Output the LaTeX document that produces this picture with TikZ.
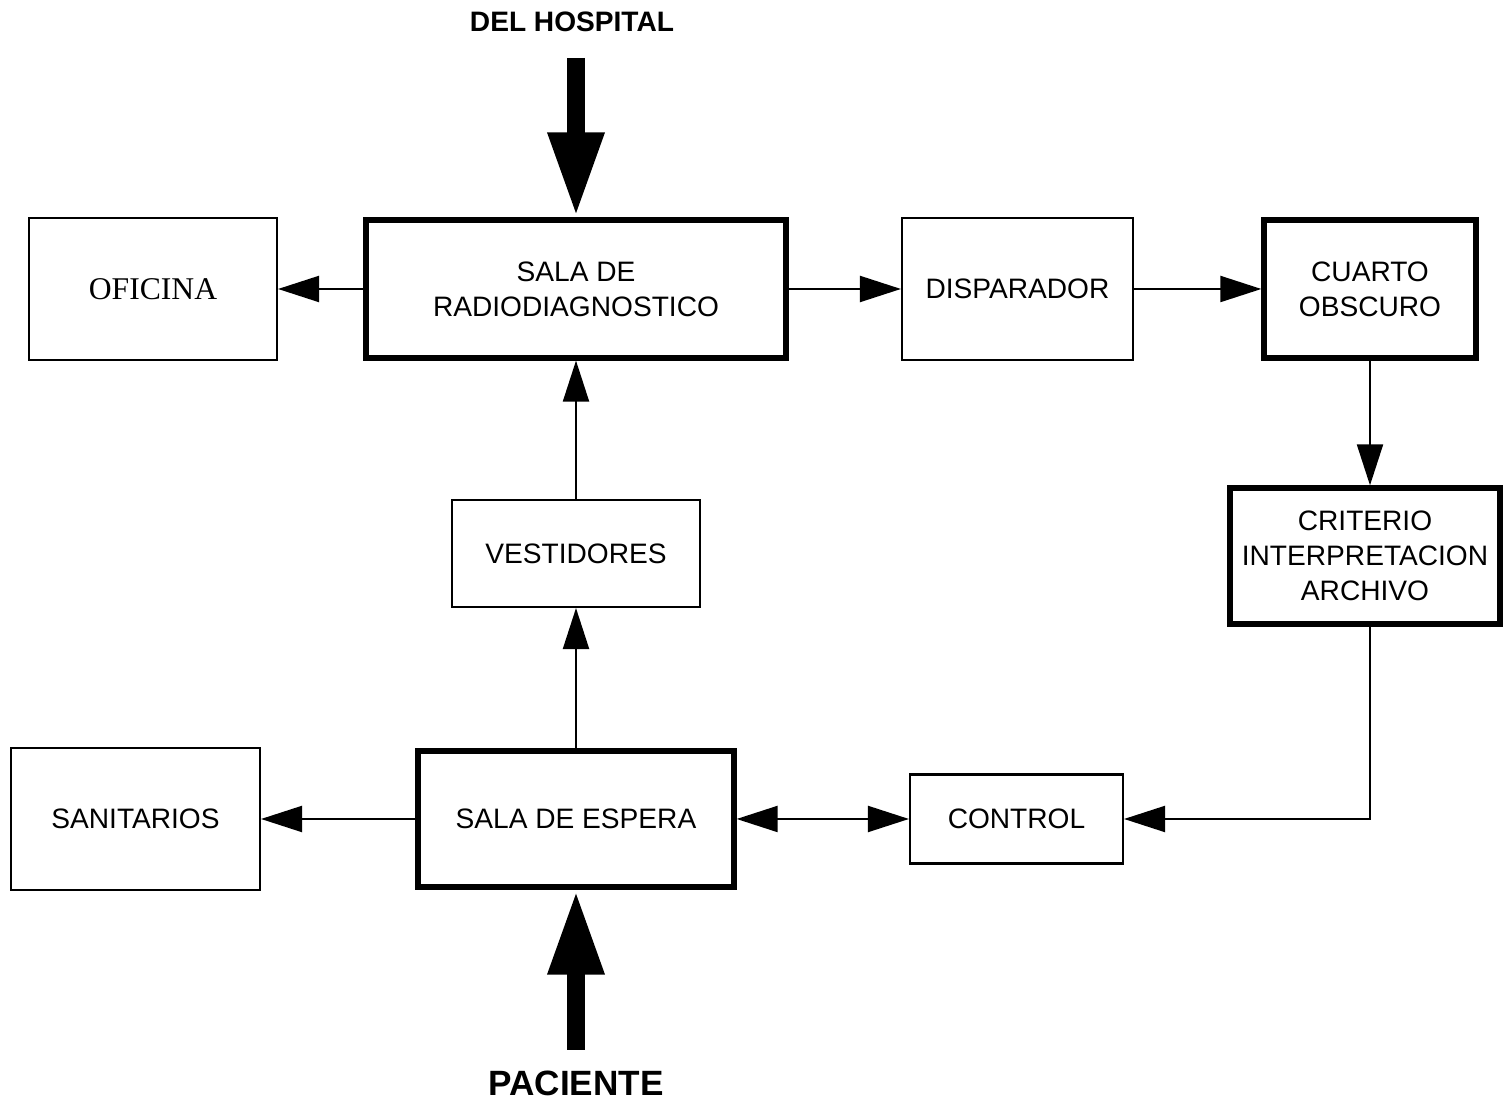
\documentclass[tikz,border=0pt]{standalone}
\usepackage{fontspec}
\setmainfont{Liberation Sans}
\newfontfamily\serifo{Liberation Serif}
\usetikzlibrary{arrows.meta, positioning, calc}

\begin{document}
\begin{tikzpicture}[font=\fontsize{8}{10}\selectfont,
    caja/.style={draw, line width=0.6pt, align=center, inner sep=0pt},
    gruesa/.style={caja, line width=1.5pt},
    flecha/.style={line width=0.6pt, -{Triangle[length=0.41cm, width=0.26cm]}},
    grande/.style={line width=0.18cm, -{Triangle[length=0.85cm, width=0.52cm]}}]
    \useasboundingbox (0,0) rectangle (15.03,-11.01);
    % fila superior
    \node[gruesa, minimum width=4.2cm, minimum height=1.38cm] (rad) at (5.76,-2.89) {SALA DE\\RADIODIAGNOSTICO};
    \node[caja, minimum width=2.48cm, minimum height=1.42cm, font=\serifo\fontsize{9}{11}\selectfont] (ofi) at (1.53,-2.89) {OFICINA};
    \node[caja, minimum width=2.31cm, minimum height=1.42cm] (disp) at (10.175,-2.89) {DISPARADOR};
    \node[gruesa, minimum width=2.12cm, minimum height=1.38cm] (cuarto) at (13.70,-2.89) {CUARTO\\OBSCURO};
    \node[gruesa, minimum width=2.70cm, minimum height=1.36cm] (crit) at (13.65,-5.56) {CRITERIO\\INTERPRETACION\\ARCHIVO};
    % centro
    \node[caja, minimum width=2.48cm, minimum height=1.07cm] (vest) at (5.76,-5.535) {VESTIDORES};
    % fila inferior
    \node[gruesa, minimum width=3.16cm, minimum height=1.36cm] (espera) at (5.76,-8.19) {SALA DE ESPERA};
    \node[caja, minimum width=2.49cm, minimum height=1.42cm] (sanit) at (1.355,-8.19) {SANITARIOS};
    \node[caja, minimum width=2.13cm, minimum height=0.89cm] (ctrl) at (10.165,-8.19) {CONTROL};
    % entradas
    \node[font=\bfseries\fontsize{8}{10}\selectfont] (hosp) at (5.72,-0.22) {DEL HOSPITAL};
    \node[font=\bfseries\fontsize{10}{12}\selectfont] (pac) at (5.76,-10.83) {PACIENTE};
    \coordinate (hospin) at (5.76,-0.58);
    \coordinate (pacin) at (5.76,-10.50);
    \draw[grande] (hospin) -- (rad.north);
    \draw[grande] (pacin) -- (espera.south);
    % recorridos
    \draw[flecha] (rad) -- (ofi);
    \draw[flecha] (rad) -- (disp);
    \draw[flecha] (disp) -- (cuarto);
    \draw[flecha] (cuarto.south) -- (cuarto.south |- crit.north);
    \draw[flecha] (cuarto.south |- crit.south) |- (ctrl.east);
    \draw[flecha] (espera) -- (sanit);
    \draw[flecha, {Triangle[length=0.41cm, width=0.26cm]}-{Triangle[length=0.41cm, width=0.26cm]}] (espera) -- (ctrl);
    \draw[flecha] (espera) -- (vest);
    \draw[flecha] (vest) -- (rad);
\end{tikzpicture}
\end{document}
